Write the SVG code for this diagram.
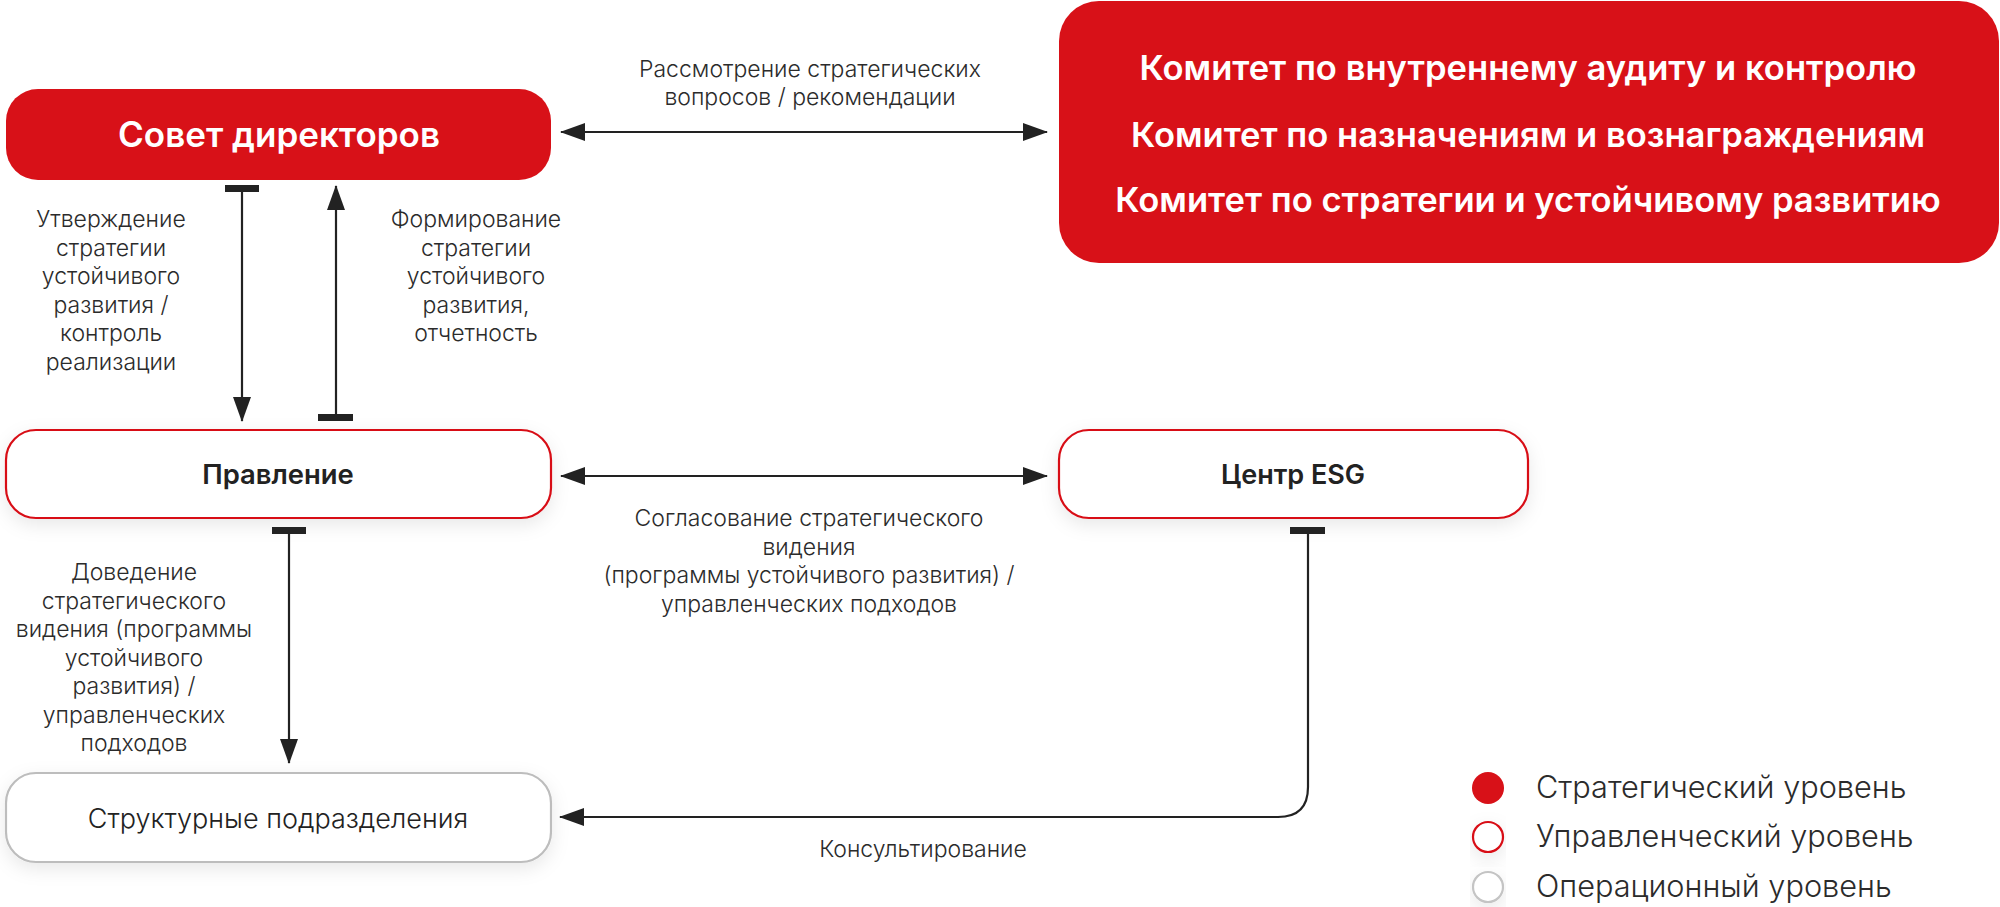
<svg xmlns="http://www.w3.org/2000/svg" width="2000" height="907" viewBox="0 0 2000 907">
<style>
.lbl{font-family:Inter,"Noto Sans","Liberation Sans",sans-serif;font-size:23px;font-weight:300;fill:#2b2b2b;text-anchor:middle}
.red{fill:#d81118}
.wt{fill:#ffffff;font-family:Inter,"Noto Sans","Liberation Sans",sans-serif;font-weight:600;text-anchor:middle}
.node{fill:#ffffff;stroke-width:2.2}
.mg{stroke:#d81118}
.op{stroke:#bdbdbd}
.nt{font-family:Inter,"Noto Sans","Liberation Sans",sans-serif;fill:#222;text-anchor:middle}
.ln{fill:none;stroke:#222;stroke-width:2.2}
.bar{fill:#222}
.leg{font-family:Inter,"Noto Sans","Liberation Sans",sans-serif;font-size:30.7px;font-weight:300;fill:#2b2b2b}
</style>
<defs>
<filter id="sh" x="-10%" y="-40%" width="120%" height="190%">
<feDropShadow dx="0" dy="6" stdDeviation="9" flood-color="#000" flood-opacity="0.09"/>
</filter>
<marker id="ah" viewBox="0 0 25 18" refX="24" refY="9" markerWidth="25" markerHeight="18" markerUnits="userSpaceOnUse" orient="auto-start-reverse">
<path d="M0,0 L25,9 L0,18 z" fill="#222"/>
</marker>
</defs>

<g id="sovet">
<rect x="6" y="89" width="545" height="91" rx="32" class="red"/>
<text x="279" y="147" class="wt" font-size="35">Совет директоров</text>
</g>

<g id="committees">
<rect x="1059" y="1" width="940" height="262" rx="40" class="red"/>
<text x="1528" y="80" class="wt" font-size="34.6">Комитет по внутреннему аудиту и контролю</text>
<text x="1528" y="147" class="wt" font-size="34.6">Комитет по назначениям и вознаграждениям</text>
<text x="1528" y="212" class="wt" font-size="34.6">Комитет по стратегии и устойчивому развитию</text>
</g>

<g id="pravlenie">
<rect x="6" y="430" width="545" height="88" rx="30" class="node mg" filter="url(#sh)"/>
<text x="278" y="484" class="nt" font-size="27.4" font-weight="600">Правление</text>
</g>

<g id="esg">
<rect x="1059" y="430" width="469" height="88" rx="30" class="node mg" filter="url(#sh)"/>
<text x="1293" y="484" class="nt" font-size="27" font-weight="600">Центр ESG</text>
</g>

<g id="struct">
<rect x="6" y="773" width="545" height="89" rx="30" class="node op" filter="url(#sh)"/>
<text x="278" y="828" class="nt" font-size="27" font-weight="300">Структурные подразделения</text>
</g>

<g id="connectors">
<line x1="561" y1="132" x2="1047" y2="132" class="ln" marker-start="url(#ah)" marker-end="url(#ah)"/>
<line x1="561" y1="476" x2="1047" y2="476" class="ln" marker-start="url(#ah)" marker-end="url(#ah)"/>
<rect x="225" y="185" width="34" height="7" class="bar"/>
<line x1="242" y1="190" x2="242" y2="421" class="ln" marker-end="url(#ah)"/>
<rect x="318" y="414" width="35" height="7" class="bar"/>
<line x1="336" y1="416" x2="336" y2="186" class="ln" marker-end="url(#ah)"/>
<rect x="272" y="527" width="34" height="7" class="bar"/>
<line x1="289" y1="532" x2="289" y2="763" class="ln" marker-end="url(#ah)"/>
<rect x="1290" y="527" width="35" height="7" class="bar"/>
<path d="M1308,532 V787 Q1308,817 1278,817 H560" class="ln" marker-end="url(#ah)"/>

<text class="lbl"><tspan x="810" y="77">Рассмотрение стратегических</tspan><tspan x="810" y="105">вопросов / рекомендации</tspan></text>
<text class="lbl"><tspan x="111" y="227">Утверждение</tspan><tspan x="111" y="255.5">стратегии</tspan><tspan x="111" y="284">устойчивого</tspan><tspan x="111" y="312.5">развития /</tspan><tspan x="111" y="341">контроль</tspan><tspan x="111" y="369.5">реализации</tspan></text>
<text class="lbl"><tspan x="476" y="227">Формирование</tspan><tspan x="476" y="255.5">стратегии</tspan><tspan x="476" y="284">устойчивого</tspan><tspan x="476" y="312.5">развития,</tspan><tspan x="476" y="341">отчетность</tspan></text>
<text class="lbl"><tspan x="809" y="526">Согласование стратегического</tspan><tspan x="809" y="554.5">видения</tspan><tspan x="809" y="583">(программы устойчивого развития) /</tspan><tspan x="809" y="611.5">управленческих подходов</tspan></text>
<text class="lbl"><tspan x="134" y="580">Доведение</tspan><tspan x="134" y="608.5">стратегического</tspan><tspan x="134" y="637">видения (программы</tspan><tspan x="134" y="665.5">устойчивого</tspan><tspan x="134" y="694">развития) /</tspan><tspan x="134" y="722.5">управленческих</tspan><tspan x="134" y="751">подходов</tspan></text>
<text x="923" y="857" class="lbl">Консультирование</text>
</g>

<g id="legend">
<circle cx="1488" cy="788" r="16" class="red"/>
<circle cx="1488" cy="837" r="15" fill="#fff" stroke="#d81118" stroke-width="2.2" filter="url(#sh)"/>
<circle cx="1488" cy="887" r="15" fill="#fff" stroke="#c4c4c4" stroke-width="2.2" filter="url(#sh)"/>
<text x="1536" y="798" class="leg">Стратегический уровень</text>
<text x="1536" y="847" class="leg">Управленческий уровень</text>
<text x="1536" y="897" class="leg">Операционный уровень</text>
</g>
</svg>
